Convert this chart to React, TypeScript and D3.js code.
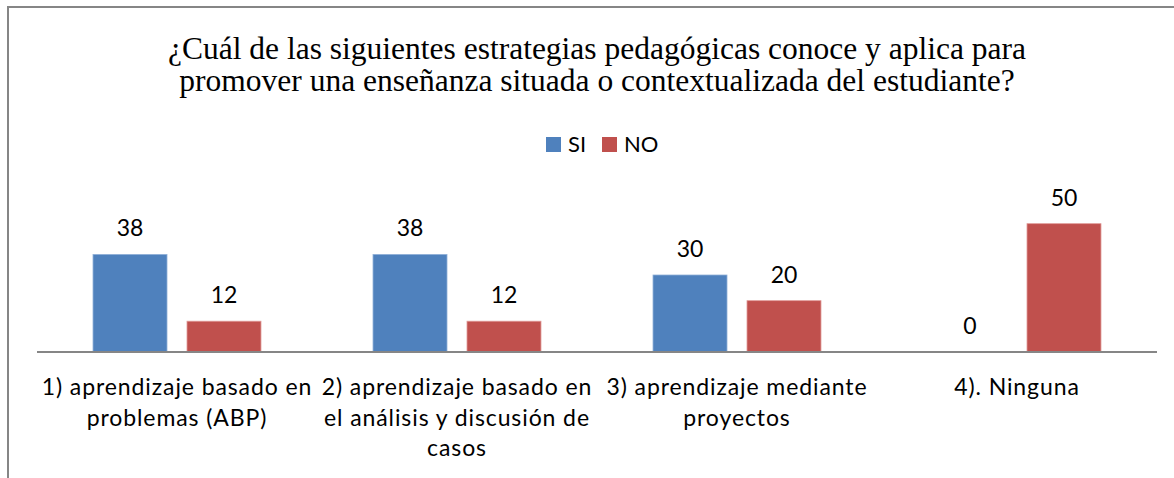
import { useEffect, useRef } from "react";
import * as d3 from "d3";

const titleLines = [
  "¿Cuál de las siguientes estrategias pedagógicas conoce y aplica para",
  "promover una enseñanza situada o contextualizada del estudiante?",
];
const categories = [
  "1) aprendizaje basado en\nproblemas (ABP)",
  "2) aprendizaje basado en\nel análisis y discusión de\ncasos",
  "3) aprendizaje mediante\nproyectos",
  "4). Ninguna",
];
const seriesNames = ["SI", "NO"];
const siValues = [38, 38, 30, 0];
const noValues = [12, 12, 20, 50];
const seriesColors = ["#4F81BD", "#C0504D"];

const W = 1174;
const H = 478;
const sans = "Lato, 'Open Sans', sans-serif";

export default function App() {
  const svgRef = useRef<SVGSVGElement | null>(null);

  useEffect(() => {
    const svgEl = svgRef.current;
    if (!svgEl) return;
    const svg = d3.select(svgEl);
    svg.selectAll("*").remove();

    // chart frame (right and bottom edges fall outside the picture)
    svg
      .append("path")
      .attr("d", `M8,${H + 5} L8,7 L${W + 5},7`)
      .attr("fill", "none")
      .attr("stroke", "#868686")
      .attr("stroke-width", 2);

    // title: one text with two lines
    svg
      .append("text")
      .attr("y", 59)
      .attr("text-anchor", "middle")
      .attr("font-family", "'Liberation Serif', 'Times New Roman', serif")
      .attr("font-size", 31.5)
      .attr("fill", "#000")
      .selectAll("tspan")
      .data(titleLines)
      .join("tspan")
      .attr("x", 597)
      .attr("dy", (_, i) => (i === 0 ? 0 : 32))
      .text((d) => d);

    // legend
    const legendX = [546, 602];
    const legend = svg
      .append("g")
      .selectAll("g")
      .data(seriesNames)
      .join("g")
      .attr("transform", (_, i) => `translate(${legendX[i]},137)`);
    legend
      .append("rect")
      .attr("width", 15)
      .attr("height", 15)
      .attr("fill", (_, i) => seriesColors[i]);
    legend
      .append("text")
      .attr("x", 22)
      .attr("y", 15)
      .attr("font-family", sans)
      .attr("font-size", 22)
      .attr("fill", "#000")
      .text((d) => d);

    const x0 = d3.scaleBand<string>().domain(categories).range([37, 1157]);
    const x1 = d3
      .scaleBand<string>()
      .domain(seriesNames)
      .range([0, x0.bandwidth()])
      .paddingInner(0.2128)
      .paddingOuter(0.596);
    const y = d3.scaleLinear().domain([0, 60]).range([352, 198]);

    const rows = categories.map((c, i) => ({
      cat: c,
      vals: [siValues[i], noValues[i]],
    }));

    const groups = svg
      .append("g")
      .selectAll("g")
      .data(rows)
      .join("g")
      .attr("transform", (d) => `translate(${x0(d.cat)},0)`);

    const cells = groups
      .selectAll("g")
      .data((d) => d.vals.map((v, j) => ({ key: seriesNames[j], v, j })))
      .join("g");

    cells
      .append("rect")
      .attr("x", (d) => x1(d.key)!)
      .attr("width", x1.bandwidth())
      .attr("y", (d) => y(d.v))
      .attr("height", (d) => y(0) - y(d.v))
      .attr("fill", (d) => seriesColors[d.j])
      .attr("stroke", (d) => (d.j === 0 ? "#8fb0d8" : "#e09a98"))
      .attr("stroke-width", (d) => (d.v > 0 ? 0.8 : 0));

    cells
      .append("text")
      .attr("x", (d) => x1(d.key)! + x1.bandwidth() / 2)
      .attr("y", (d) => y(d.v) - 18)
      .attr("text-anchor", "middle")
      .attr("font-family", sans)
      .attr("font-size", 23)
      .attr("fill", "#000")
      .text((d) => d.v);

    // category axis
    svg
      .append("line")
      .attr("x1", 37)
      .attr("x2", 1157)
      .attr("y1", 352)
      .attr("y2", 352)
      .attr("stroke", "#868686")
      .attr("stroke-width", 2);

    const labels = svg
      .append("g")
      .selectAll("text")
      .data(categories)
      .join("text")
      .attr("x", (d) => x0(d)! + x0.bandwidth() / 2)
      .attr("y", 395)
      .attr("text-anchor", "middle")
      .attr("font-family", sans)
      .attr("font-size", 23)
      .attr("letter-spacing", 0.9)
      .attr("fill", "#000");
    labels
      .selectAll("tspan")
      .data((d) => d.split("\n"))
      .join("tspan")
      .attr("x", function () {
        return (this.parentNode as SVGTextElement).getAttribute("x");
      })
      .attr("dy", (_, i) => (i === 0 ? 0 : 30.5))
      .text((d) => d);
  }, []);

  return (
    <svg
      ref={svgRef}
      width={W}
      height={H}
      style={{ position: "absolute", left: 0, top: 0, background: "#fff" }}
    />
  );
}
